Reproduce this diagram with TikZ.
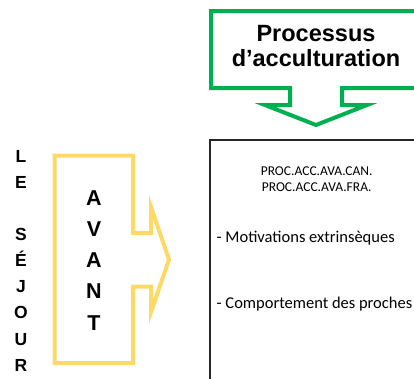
\documentclass[tikz,border=0pt]{standalone}
\usepackage{fontspec}
\usepackage{tikz}
\usetikzlibrary{positioning}
\setmainfont{Liberation Sans}
\newfontfamily\boxfont{Carlito}
\definecolor{titlegreen}{RGB}{0,176,80}
\definecolor{avantyellow}{RGB}{255,217,102}
\definecolor{boxgray}{RGB}{38,38,38}

\begin{document}
\begin{tikzpicture}[x=1pt, y=-1pt, line join=miter,
  callout/.style={line width=4pt},
  bigletters/.style={font=\bfseries\fontsize{21.5}{31.2}\selectfont, align=center, inner sep=0pt, anchor=base},
  sidetext/.style={font=\bfseries\fontsize{17.5}{26.16}\selectfont, align=center, inner sep=0pt, anchor=base},
  boxtext/.style={font=\boxfont\fontsize{16.5}{20}\selectfont, inner sep=0pt, anchor=base west}]
  \useasboundingbox (0,0) rectangle (414,378);
  \clip (0,0) rectangle (414,378);

  % green callout
  \draw[callout, draw=titlegreen] (440,88) -- (342,88) -- (342,105) -- (367,105) -- (316,125)
    -- (265,105) -- (290,105) -- (290,88) -- (211,88) -- (211,11) -- (440,11);
  \node[font=\bfseries\fontsize{23.5}{24.5}\selectfont, align=center, inner sep=0pt, anchor=base] (title) at (316,66) {Processus\\d’acculturation};

  % content box
  \draw[boxgray, line width=1.3pt] (210,140) rectangle (440,420);
  \node[font=\boxfont\fontsize{13.5}{16}\selectfont, align=center, inner sep=0pt, anchor=base] (codes) at (316.7,191.5) {PROC.ACC.AVA.CAN.\\PROC.ACC.AVA.FRA.};
  \node[boxtext] (motiv) at (216.5,242.7) {- Motivations extrinsèques};
  \node[boxtext] (proches) at (216.5,308.3) {- Comportement des proches};

  % yellow arrow
  \draw[callout, draw=avantyellow] (54.5,155.5) -- (133,155.5) -- (133,233) -- (151,233) -- (151,207)
    -- (169,259.5) -- (151,312) -- (151,286.5) -- (133,286.5) -- (133,363) -- (54.5,363) -- cycle;
  \node[bigletters] (avant) at (94,330) {A\\V\\A\\N\\T};

  \node[sidetext] (sejour) at (21,371.3) {L\\E\\~\\S\\É\\J\\O\\U\\R};
\end{tikzpicture}
\end{document}
